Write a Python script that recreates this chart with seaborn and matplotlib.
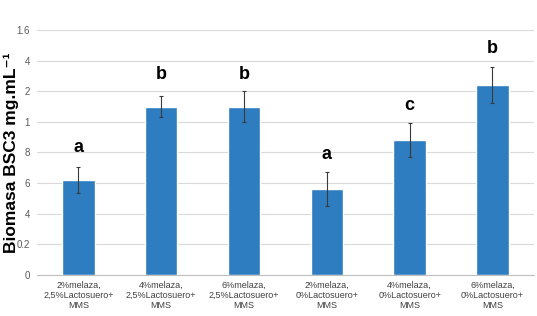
"""
Biomasa BSC3 wg składu podłoża — wykres słupkowy z błędami i literami grup.
"""

import matplotlib
matplotlib.use('Agg')
import matplotlib.pyplot as plt
import seaborn as sns
import pandas as pd

# dane
tratamientos = [
    '2%melaza,\n2,5%Lactosuero+\nMMS',
    '4%melaza,\n2,5%Lactosuero+\nMMS',
    '6%melaza,\n2,5%Lactosuero+\nMMS',
    '2%melaza,\n0%Lactosuero+\nMMS',
    '4%melaza,\n0%Lactosuero+\nMMS',
    '6%melaza,\n0%Lactosuero+\nMMS',
]
biomasa = [0.62, 1.10, 1.10, 0.56, 0.88, 1.24]
error = [0.085, 0.07, 0.10, 0.11, 0.11, 0.12]
letras = ['a', 'b', 'b', 'a', 'c', 'b']
letra_y = [0.83, 1.31, 1.31, 0.79, 1.11, 1.48]

y_ticks = [0, 0.2, 0.4, 0.6, 0.8, 1.0, 1.2, 1.4, 1.6]
y_ticklabels = ['0', '0.2', '4', '6', '8', '1', '2', '4', '1.6']

df = pd.DataFrame({'tratamiento': tratamientos, 'biomasa': biomasa})

sns.set_style('white')
plt.rcParams['font.family'] = ['Liberation Sans', 'DejaVu Sans']

fig = plt.figure(figsize=(5.37, 3.16), dpi=100)
ax = fig.add_axes([0.069, 0.13, 0.925, 0.775])

sns.barplot(data=df, x='tratamiento', y='biomasa', color='#2E7DC0',
            saturation=1, width=0.39, ax=ax)
ax.errorbar(range(len(biomasa)), biomasa, yerr=error, fmt='none',
            ecolor='#3a3a3a', elinewidth=0.8, capsize=1.5, capthick=0.8)

for i, (letra, y) in enumerate(zip(letras, letra_y)):
    ax.text(i, y, letra, ha='center', va='center', fontsize=13,
            fontweight='bold', color='black')

ax.set_ylim(0, 1.6)
ax.set_xlim(-0.5, len(tratamientos) - 0.5)
ax.set_yticks(y_ticks)
ax.set_yticklabels(y_ticklabels)
ax.yaxis.grid(True, color='#d9d9d9', linewidth=0.8)
ax.set_axisbelow(True)
ax.tick_params(axis='y', labelsize=7, labelcolor='#595959', length=0, pad=5)
ax.tick_params(axis='x', labelsize=6.5, labelcolor='#404040', length=0, pad=4)

for side in ['top', 'right', 'left']:
    ax.spines[side].set_visible(False)
ax.spines['bottom'].set_color('#bfbfbf')
ax.spines['bottom'].set_linewidth(0.8)

ax.set_xlabel('')
ax.set_ylabel('Biomasa BSC3 mg.mL⁻¹', fontsize=12.5,
              fontweight='bold', color='black')
ax.yaxis.set_label_coords(-0.036, 0.5)

plt.savefig('out.png', dpi=100)
plt.close()
